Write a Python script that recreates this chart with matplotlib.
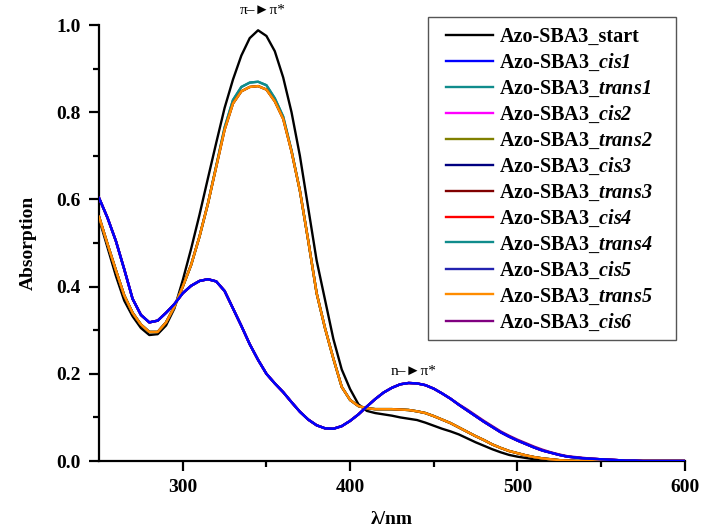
import matplotlib
matplotlib.use("Agg")
import matplotlib.pyplot as plt
from matplotlib.patches import Rectangle

plt.rcParams['font.family'] = ['Liberation Serif', 'DejaVu Serif']
plt.rcParams['mathtext.fontset'] = 'custom'
plt.rcParams['mathtext.rm'] = 'Liberation Serif:bold:italic'
plt.rcParams['mathtext.it'] = 'Liberation Serif:bold:italic'
plt.rcParams['mathtext.bf'] = 'Liberation Serif:bold:italic'

wavelength = list(range(250, 601, 5))

start = [0.555, 0.490, 0.425, 0.368, 0.332, 0.305, 0.289, 0.291, 0.311, 0.350,
         0.415, 0.487, 0.565, 0.648, 0.730, 0.810, 0.875, 0.930, 0.970, 0.988,
         0.975, 0.940, 0.880, 0.800, 0.700, 0.580, 0.460, 0.370, 0.280, 0.210,
         0.165, 0.130, 0.115, 0.110, 0.107, 0.104, 0.100, 0.097, 0.094, 0.088,
         0.081, 0.074, 0.068, 0.061, 0.052, 0.043, 0.035, 0.027, 0.020, 0.014,
         0.010, 0.007, 0.004, 0.002, 0.001] + [0.0] * 16

trans = [0.560, 0.498, 0.438, 0.380, 0.340, 0.313, 0.296, 0.296, 0.318, 0.354,
         0.400, 0.450, 0.515, 0.590, 0.675, 0.760, 0.820, 0.848, 0.858, 0.860,
         0.852, 0.825, 0.785, 0.710, 0.620, 0.505, 0.385, 0.305, 0.235, 0.170,
         0.140, 0.126, 0.121, 0.119, 0.119, 0.119, 0.118, 0.117, 0.114, 0.110,
         0.103, 0.095, 0.087, 0.077, 0.067, 0.057, 0.048, 0.038, 0.030, 0.023,
         0.018, 0.013, 0.009, 0.006, 0.004, 0.002, 0.001] + [0.0] * 14

trans_teal = [0.560, 0.498, 0.438, 0.380, 0.340, 0.313, 0.296, 0.296, 0.318, 0.354,
              0.400, 0.450, 0.515, 0.590, 0.677, 0.765, 0.828, 0.858, 0.868, 0.870,
              0.862, 0.832, 0.790, 0.712, 0.620, 0.505, 0.385, 0.305, 0.235, 0.170,
              0.140, 0.126, 0.121, 0.119, 0.119, 0.119, 0.118, 0.117, 0.114, 0.110,
              0.103, 0.095, 0.087, 0.077, 0.067, 0.057, 0.048, 0.038, 0.030, 0.023,
              0.018, 0.013, 0.009, 0.006, 0.004, 0.002, 0.001] + [0.0] * 14

cis = [0.603, 0.558, 0.505, 0.440, 0.372, 0.335, 0.318, 0.322, 0.340, 0.360,
       0.385, 0.402, 0.413, 0.417, 0.412, 0.390, 0.350, 0.310, 0.268, 0.232,
       0.200, 0.178, 0.158, 0.135, 0.113, 0.095, 0.082, 0.075, 0.074, 0.080,
       0.092, 0.107, 0.125, 0.142, 0.157, 0.168, 0.176, 0.179, 0.178, 0.174,
       0.166, 0.155, 0.143, 0.129, 0.116, 0.103, 0.090, 0.078, 0.066, 0.056,
       0.047, 0.039, 0.031, 0.024, 0.019, 0.014, 0.010, 0.008, 0.006, 0.005,
       0.004, 0.003, 0.002, 0.001, 0.001] + [0.0] * 6

cis6 = [0.603, 0.558, 0.505, 0.440, 0.372, 0.335, 0.318, 0.322, 0.340, 0.360,
        0.385, 0.402, 0.413, 0.417, 0.412, 0.390, 0.350, 0.310, 0.268, 0.232,
        0.200, 0.178, 0.158, 0.135, 0.113, 0.095, 0.082, 0.075, 0.074, 0.080,
        0.092, 0.107, 0.125, 0.142, 0.157, 0.168, 0.176, 0.179, 0.178, 0.174,
        0.166, 0.155, 0.143, 0.130, 0.118, 0.105, 0.092, 0.080, 0.068, 0.058,
        0.049, 0.041, 0.033, 0.026, 0.020, 0.015, 0.011, 0.009, 0.007, 0.005,
        0.004, 0.003, 0.002, 0.001, 0.001] + [0.0] * 6

labels = ["Azo-SBA3_start", "Azo-SBA3_$\\mathrm{cis1}$", "Azo-SBA3_$\\mathrm{trans1}$",
          "Azo-SBA3_$\\mathrm{cis2}$", "Azo-SBA3_$\\mathrm{trans2}$", "Azo-SBA3_$\\mathrm{cis3}$",
          "Azo-SBA3_$\\mathrm{trans3}$", "Azo-SBA3_$\\mathrm{cis4}$", "Azo-SBA3_$\\mathrm{trans4}$",
          "Azo-SBA3_$\\mathrm{cis5}$", "Azo-SBA3_$\\mathrm{trans5}$", "Azo-SBA3_$\\mathrm{cis6}$"]
series = [start, cis, trans_teal, cis, trans, cis, trans, cis, trans_teal, cis, trans, cis6]
colors = ["#000000", "#0000FF", "#108C8C", "#FF00FF", "#808000", "#000080",
          "#800000", "#FF0000", "#108C8C", "#2323B0", "#FF8C00", "#800080"]
zorders = [3, 10, 4, 5, 5, 6, 5, 8, 4, 9, 8, 7]

fig = plt.figure(figsize=(7.03, 5.31), dpi=100)
ax = fig.add_axes([0.141, 0.1318, 0.833, 0.821])

lines = []
for vals, lab, col, z in zip(series, labels, colors, zorders):
    ln, = ax.plot(wavelength, vals, color=col, lw=1.7, label=lab, zorder=z)
    lines.append(ln)

ax.set_xlim(250, 600)
ax.set_ylim(0, 1.0)
ax.set_xticks([300, 400, 500, 600])
ax.set_xticks([350, 450, 550], minor=True)
ax.set_yticks([0.0, 0.2, 0.4, 0.6, 0.8, 1.0])
ax.set_yticks([0.1, 0.3, 0.5, 0.7, 0.9], minor=True)
ax.set_yticklabels(["0.0", "0.2", "0.4", "0.6", "0.8", "1.0"])
for sp in ['top', 'right']:
    ax.spines[sp].set_visible(False)
for sp in ['left', 'bottom']:
    ax.spines[sp].set_linewidth(1.6)
ax.tick_params(which='major', direction='out', length=7, width=1.6, labelsize=14, pad=6)
ax.tick_params(which='minor', direction='out', length=4, width=1.6)
for t in ax.get_xticklabels() + ax.get_yticklabels():
    t.set_fontweight('bold')

ax.set_xlabel("λ/nm", fontsize=14, fontweight='bold', labelpad=11)
ax.set_ylabel("Absorption", fontsize=14, fontweight='bold', labelpad=14)

ax.text(347.5, 1.033, "π\u2013\u25BAπ*", ha='center', va='center', fontsize=11,
        family=['Liberation Serif', 'DejaVu Sans'], clip_on=False)
ax.text(438, 0.205, "n\u2013\u25BAπ*", ha='center', va='center', fontsize=11,
        family=['Liberation Serif', 'DejaVu Sans'])

leg = fig.legend(handles=lines, loc='upper left', bbox_to_anchor=(446 / 703, 1 - 27 / 531),
                 prop={'weight': 'bold', 'size': 14.5}, frameon=False,
                 handlelength=2.35, handletextpad=0.3, labelspacing=0.26,
                 borderpad=0, borderaxespad=0)

fig.patches.append(Rectangle((428 / 703, 1 - 340 / 531), 248 / 703, 323 / 531,
                             transform=fig.transFigure, fill=False,
                             edgecolor='#555555', lw=1.0))

fig.savefig("out.png", dpi=100)
